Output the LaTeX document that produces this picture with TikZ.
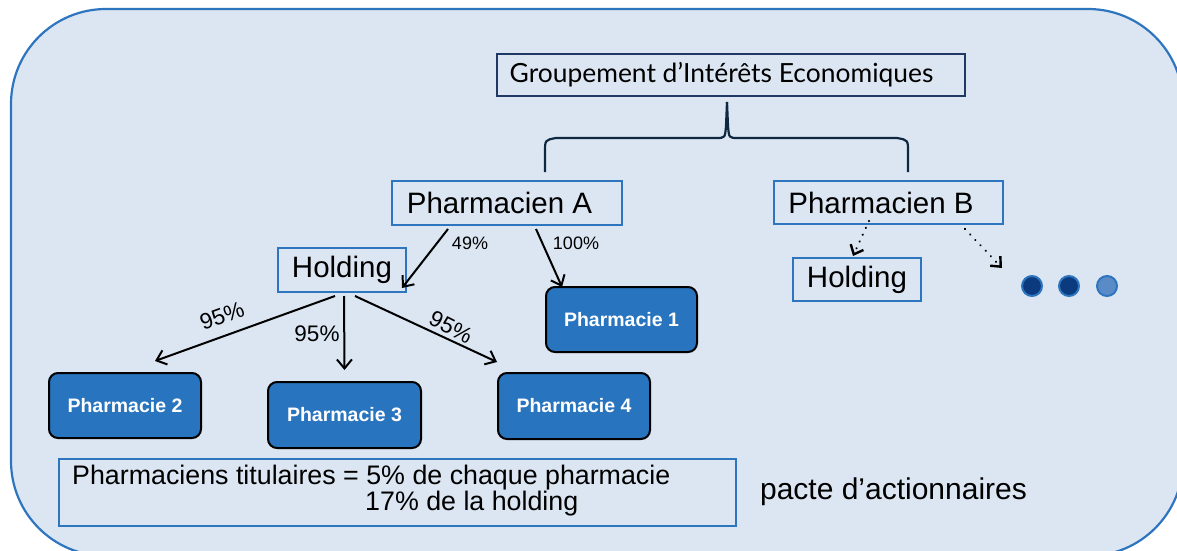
\documentclass[tikz,border=0pt]{standalone}
\usepackage{fontspec}
\setmainfont{Liberation Sans}
\newfontfamily\latofont{Lato}
\usetikzlibrary{arrows.meta}
\definecolor{bgfill}{HTML}{DCE6F2}
\definecolor{bluel}{HTML}{2E75C0}
\definecolor{navy}{HTML}{1F3864}
\definecolor{bracecol}{HTML}{0E2841}
\definecolor{pharm}{HTML}{2874BF}
\definecolor{dotdark}{HTML}{0B3A7E}
\definecolor{dotlight}{HTML}{5B8BC6}
\begin{document}
\begin{tikzpicture}[x=1pt,y=-1pt,
  bluebox/.style={draw=bluel,line width=2pt,inner sep=0pt,outer sep=0pt,font=\fontsize{29.5}{32}\selectfont},
  pharmbox/.style={draw=black,fill=pharm,line width=2pt,rounded corners=9pt,text=white,
    font=\fontsize{19.5}{22}\selectfont\bfseries,inner sep=0pt,outer sep=0pt},
  arr/.style={-{Straight Barb[length=9pt,width=15pt]},line width=2pt,black},
  dotarr/.style={-{Straight Barb[length=8pt,width=14pt]},line width=2.4pt,black,line cap=round,dash pattern=on 0.01pt off 7.5pt},
  pct/.style={font=\fontsize{18}{20}\selectfont},
  pctbig/.style={font=\fontsize{22.5}{24}\selectfont},
  dotnode/.style={circle,draw=bluel,line width=2pt,minimum size=20pt,inner sep=0pt}]
\useasboundingbox (0,0) rectangle (1177,551);
\draw[bluel,fill=bgfill,line width=2.2pt,rounded corners=95pt] (11,9) rectangle (1183,556);
% top box
\node[draw=navy,line width=2.8pt,minimum width=468pt,minimum height=42pt,inner sep=0pt,
  font=\latofont\fontsize{26.4}{28}\selectfont] (gie) at (731,75) {\hspace*{-19pt}Groupement d’Intérêts Economiques};
% brace
\draw[bracecol,line width=2.2pt] (545,172) -- (545,152) .. controls (545,140) .. (556,138) -- (716,138)
  .. controls (725,138) .. (726,126) -- (727,102);
\draw[bracecol,line width=2.2pt] (727,102) -- (728,126) .. controls (729,138) .. (738,138) -- (897,138)
  .. controls (908,140) .. (908,152) -- (908,172);
% pharmaciens
\node[bluebox,minimum width=230pt,minimum height=44pt] (pa) at (507,203) {Pharmacien A\hspace*{15pt}};
\node[bluebox,minimum width=229pt,minimum height=43pt] (pb) at (888.5,202.5) {Pharmacien B\hspace*{15pt}};
\node[bluebox,minimum width=128pt,minimum height=44pt] (ha) at (342,270) {Holding};
\node[bluebox,minimum width=128pt,minimum height=43pt] (hb) at (857,279.5) {Holding};
% pharmacies
\node[pharmbox,minimum width=151pt,minimum height=65pt] (p1) at (621.5,319.5) {Pharmacie 1};
\node[pharmbox,minimum width=152pt,minimum height=65pt] (p2) at (125,405.5) {Pharmacie 2};
\node[pharmbox,minimum width=153pt,minimum height=66pt] (p3) at (344.5,415) {Pharmacie 3};
\node[pharmbox,minimum width=152pt,minimum height=66pt] (p4) at (574,406) {Pharmacie 4};
% dots
\node[dotnode,fill=dotdark] (d1) at (1032,286) {};
\node[dotnode,fill=dotdark] (d2) at (1069,286) {};
\node[dotnode,fill=dotlight] (d3) at (1107,286) {};
\coordinate (dend) at (1002,268);
% arrows
\draw[arr] ([xshift=-59pt,yshift=-4pt]pa.south) -- ([xshift=-4pt,yshift=4pt]ha.south east);
\draw[arr] ([xshift=29pt,yshift=-4pt]pa.south) -- ([xshift=-59.5pt]p1.north);
\draw[arr] ([xshift=-7pt,yshift=-4pt]ha.south) -- ([xshift=30pt,yshift=12pt]p2.north);
\draw[arr] ([xshift=2pt,yshift=-4pt]ha.south) -- ([xshift=0pt,yshift=12pt]p3.north);
\draw[arr] ([xshift=13pt,yshift=-4pt]ha.south) -- ([xshift=-1pt,yshift=11pt]p4.north west);
\draw[dotarr] ([xshift=-19.5pt,yshift=3pt]pb.south) -- ([xshift=-4pt,yshift=2pt]hb.north);
\draw[dotarr] ([xshift=-38pt,yshift=-5pt]pb.south east) -- (dend);
% labels
\node[pct] (l49) at (470,243) {49\%};
\node[pct] (l100) at (576,243) {100\%};
\node[pctbig,rotate=20] (l95a) at (222,316) {95\%};
\node[pctbig] (l95b) at (317,334) {95\%};
\node[pctbig,rotate=-27] (l95c) at (451,327) {95\%};
% bottom
\node[draw=bluel,line width=2pt,minimum width=677pt,minimum height=67pt,inner sep=0pt] (note) at (397.5,492.5) {};
\node[anchor=west,align=left,inner sep=0pt,font=\fontsize{26.8}{26}\selectfont] (notetext) at (72,491)
  {Pharmaciens titulaires = 5\% de chaque pharmacie\\\hspace*{293pt}17\% de la holding};
\node[anchor=base,inner sep=0pt,font=\fontsize{30}{32}\selectfont] (pacte) at (893.5,499) {pacte d’actionnaires};
\end{tikzpicture}
\end{document}
